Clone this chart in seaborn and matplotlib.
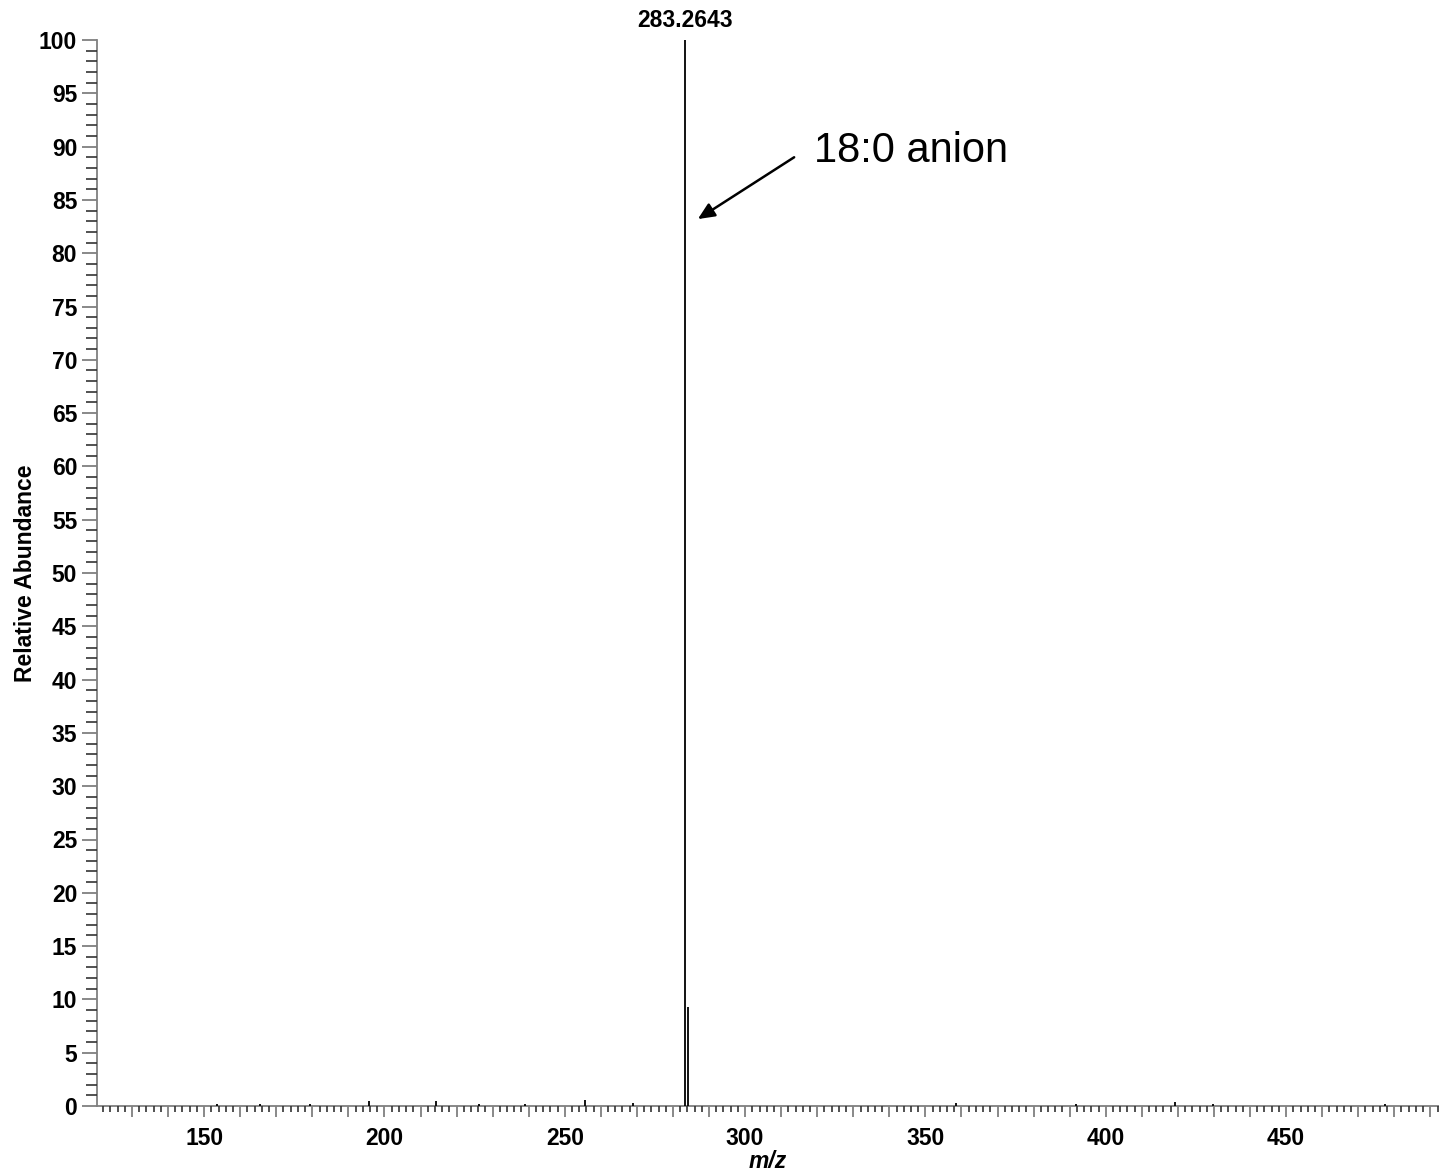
import matplotlib
matplotlib.use("Agg")
import matplotlib.pyplot as plt
from matplotlib.ticker import MultipleLocator
import seaborn as sns
import pandas as pd

# Centroided peaks of the negative-ion spectrum
mz = [153.6, 165.5, 179.4, 195.8, 214.2, 226.2, 238.9, 255.6, 268.9,
      283.2643, 284.27, 358.6, 391.7, 419.3, 429.8, 477.3]
rel_abundance = [0.2, 0.2, 0.2, 0.5, 0.5, 0.2, 0.2, 0.6, 0.3,
                 100.0, 9.3, 0.3, 0.2, 0.4, 0.2, 0.2]
base_peak_label = "283.2643"
annotation_text = "18:0 anion"

peaks = pd.DataFrame({"mz": mz, "abundance": rel_abundance})

sns.set_style("ticks")
plt.rcParams["font.family"] = ["Liberation Sans", "DejaVu Sans"]
plt.rcParams["text.color"] = "black"
plt.rcParams["axes.labelcolor"] = "black"
plt.rcParams["xtick.labelcolor"] = "black"
plt.rcParams["ytick.labelcolor"] = "black"

fig = plt.figure(figsize=(14.39, 11.70), dpi=100)
ax = fig.add_axes([97 / 1439, 1 - 1106 / 1170, 1 - 97 / 1439, (1106 - 40) / 1170])

# Stick spectrum
ax.vlines(peaks["mz"], 0, peaks["abundance"], colors="black", linewidth=1.3)

ax.set_xlim(120.3, 492.4)
ax.set_ylim(0, 100)

sns.despine(ax=ax)
for side in ("left", "bottom"):
    ax.spines[side].set_color("#7f7f7f")
    ax.spines[side].set_linewidth(1.3)
    ax.spines[side].set_zorder(0)

ax.xaxis.set_major_locator(MultipleLocator(10))
ax.xaxis.set_minor_locator(MultipleLocator(2))
ax.yaxis.set_major_locator(MultipleLocator(5))
ax.yaxis.set_minor_locator(MultipleLocator(1))

xt = [v for v in range(130, 500, 10)]
ax.set_xticks(xt)
ax.set_xticklabels([str(v) if v % 50 == 0 else "" for v in xt])

ax.tick_params(axis="x", which="major", length=8, width=1.3, color="#7f7f7f",
               pad=7, labelsize=16.5, labelcolor="black")
ax.tick_params(axis="x", which="minor", length=4.3, width=1.2, color="#333333")
ax.tick_params(axis="y", which="major", length=10.8, width=1.3, color="#7f7f7f",
               pad=3.5, labelsize=16.5, labelcolor="black")
ax.tick_params(axis="y", which="minor", length=7.9, width=1.2, color="#333333")
for lab in ax.get_xticklabels() + ax.get_yticklabels():
    lab.set_fontweight("bold")

ax.set_ylabel("Relative Abundance", fontsize=16.5, fontweight="bold",
              labelpad=1, color="black")
ax.set_xlabel("m/z", fontsize=16.5, fontweight="bold", style="italic",
              labelpad=0, color="black")

# Base peak label
ax.annotate(base_peak_label, xy=(283.2643, 100), xytext=(0, 14),
            textcoords="offset points", ha="center", va="center",
            fontsize=16.5, fontweight="bold", color="black",
            annotation_clip=False)

# Peak identification with arrow
ax.annotate("", xy=(286.9, 83.2), xytext=(313.6, 89.0),
            arrowprops=dict(arrowstyle="-|>,head_length=1.0,head_width=0.45",
                            color="black", lw=1.8, shrinkA=0, shrinkB=0))
ax.text(319.2, 88.6, annotation_text, fontsize=30, va="baseline", ha="left",
        color="black")

fig.savefig("out.png", dpi=100)
